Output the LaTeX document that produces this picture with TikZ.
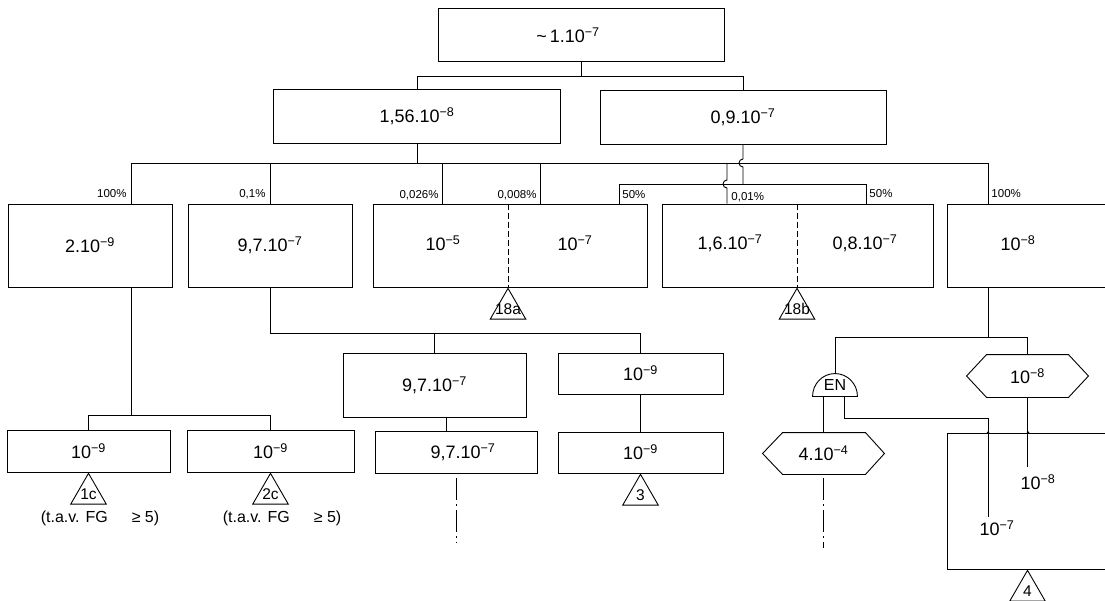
\documentclass[tikz,border=0pt]{standalone}
\usepackage{fontspec}
\setmainfont{Liberation Sans}
\usetikzlibrary{shapes.geometric,calc}
\begin{document}
\begin{tikzpicture}[x=1pt,y=-1pt,line width=0.9pt,
  box/.style={draw,rectangle,inner sep=0pt,font=\fontsize{18}{21}\selectfont},
  main/.style={inner sep=0pt,font=\fontsize{18}{21}\selectfont},
  pct/.style={inner sep=0pt,font=\fontsize{11.5}{13}\selectfont},
  tri/.style={draw,regular polygon,regular polygon sides=3,minimum size=41pt,inner sep=0pt,anchor=corner 1},
  trilab/.style={inner sep=0pt,font=\fontsize{15.5}{18}\selectfont},
  note/.style={inner sep=0pt,font=\fontsize{16}{19}\selectfont},
  divider/.style={dash pattern=on 6pt off 3pt},
  dashdot/.style={dash pattern=on 22pt off 4pt on 2pt off 4pt}]
\useasboundingbox (0,0) rectangle (1105,601);
\clip (0,0) rectangle (1105,601);

% ---- boxes ----
\node[box,minimum width=286pt,minimum height=53pt] (top) at (581,34.5) {};
\node[main] (ttop) at (568,35) {\textasciitilde\,1.10\textsuperscript{−7}};
\node[box,minimum width=287pt,minimum height=54pt] (n156) at (417,116) {1,56.10\textsuperscript{−8}};
\node[box,minimum width=286pt,minimum height=54pt] (n09) at (743,117) {0,9.10\textsuperscript{−7}};

\node[box,minimum width=164pt,minimum height=83pt] (n2e9) at (90,245.5) {2.10\textsuperscript{−9}};
\node[box,minimum width=164pt,minimum height=83pt] (n97) at (270,245.5) {9,7.10\textsuperscript{−7}};
\node[box,minimum width=274pt,minimum height=83pt] (nA) at (510,245.5) {};
\node[main] (tA1) at (443,243) {10\textsuperscript{−5}};
\node[main] (tA2) at (575,243) {10\textsuperscript{−7}};
\node[box,minimum width=271pt,minimum height=83pt] (nB) at (797.5,245.5) {};
\node[main] (tB1) at (730,243) {1,6.10\textsuperscript{−7}};
\node[main] (tB2) at (865,243) {0,8.10\textsuperscript{−7}};
\node[box,minimum width=274pt,minimum height=83pt] (nC) at (1084,245.5) {};
\node[main] (tC) at (1018,243) {10\textsuperscript{−8}};

\coordinate (dA) at (508,0);
\coordinate (dB) at (797,0);
\draw[divider] (nA.north -| dA) -- (nA.south -| dA);
\draw[divider] (nB.north -| dB) -- (nB.south -| dB);

\node[box,minimum width=183pt,minimum height=64pt] (n97b) at (434.5,385) {9,7.10\textsuperscript{−7}};
\node[box,minimum width=165pt,minimum height=41pt] (n9a) at (640.5,373.5) {10\textsuperscript{−9}};
\node[box,minimum width=162pt,minimum height=42pt] (n97c) at (456,452) {};
\node[main] (t97c) at (463,452) {9,7.10\textsuperscript{−7}};
\node[box,minimum width=165pt,minimum height=41pt] (n9b) at (640.5,452.5) {10\textsuperscript{−9}};
\node[box,minimum width=163pt,minimum height=42pt] (n1c) at (88.5,451) {10\textsuperscript{−9}};
\node[box,minimum width=167pt,minimum height=42pt] (n2c) at (270.5,451) {10\textsuperscript{−9}};

% hexagons
\node[main,minimum width=121pt,minimum height=41pt] (hex4) at (823.5,453.5) {4.10\textsuperscript{−4}};
\draw ([xshift=20pt]hex4.north west) -- ([xshift=-19pt]hex4.north east) -- (hex4.east)
  -- ([xshift=-19pt]hex4.south east) -- ([xshift=20pt]hex4.south west) -- (hex4.west) -- cycle;
\node[main,minimum width=121pt,minimum height=42pt] (hex8) at (1027.5,376) {10\textsuperscript{−8}};
\draw ([xshift=20pt]hex8.north west) -- ([xshift=-20pt]hex8.north east) -- (hex8.east)
  -- ([xshift=-20pt]hex8.south east) -- ([xshift=20pt]hex8.south west) -- (hex8.west) -- cycle;

% EN gate
\node[note,minimum width=44pt,minimum height=22pt] (en) at (835,385) {EN};
\draw (en.south west) to[out=90,in=180] (en.north) to[out=0,in=90] (en.south east) -- cycle;

% big rectangle
\node[draw,rectangle,inner sep=0pt,minimum width=260pt,minimum height=136pt] (big) at (1077,501) {};
\node[main] (l8) at (1038,482) {10\textsuperscript{−8}};
\node[main] (l7) at (997,528) {10\textsuperscript{−7}};

% triangles
\node[tri] (t18a) at (nA.south -| dA) {};
\node[trilab] at (t18a.center) {18a};
\node[tri] (t18b) at (nB.south -| dB) {};
\node[trilab] at (t18b.center) {18b};
\node[tri] (t1c) at (n1c.south) {};
\node[trilab] at (t1c.center) {1c};
\node[tri] (t2c) at (n2c.south) {};
\node[trilab] at (t2c.center) {2c};
\node[tri] (t3) at (n9b.south) {};
\node[trilab] at (t3.center) {3};
\node[tri] (t4) at (big.south -| hex8.south) {};
\node[trilab] at (t4.center) {4};

\node[note] (fg1) at (100,518) {(t.a.v. FG\hspace{24pt}≥ 5)};
\node[note] (fg2) at (282,518) {(t.a.v. FG\hspace{24pt}≥ 5)};

% ---- connectors ----
\coordinate (h1) at (0,76);
\draw (top.south) -- (top.south |- h1);
\draw (n156.north) |- (h1 -| n09.north) -- (n09.north);

\coordinate (bus) at (0,163);
\coordinate (p100) at (131,163);
\coordinate (p026) at (442,163);
\coordinate (p008) at (540,163);
\coordinate (p001) at (727,163);
\coordinate (p100r) at (988,163);
\draw (p100) -- (p100r);
\draw (n156.south) -- (n156.south |- bus);
\draw (p100) -- (p100 |- n2e9.north);
\draw (n97.north) -- (n97.north |- bus);
\draw (p026) -- (p026 |- nA.north);
\draw (p008) -- (p008 |- nA.north);
\draw (p100r) -- (p100r |- nC.north);

\coordinate (br) at (0,184);
\coordinate (b50l) at (619,184);
\coordinate (b50r) at (866,184);
\draw (b50l |- nA.north) -- (b50l) -- (b50r) -- (b50r |- nB.north);
\draw (n09.south) -- ($(n09.south |- bus)+(0,-4)$) arc[start angle=90,end angle=270,radius=4pt] -- (n09.south |- br);
\draw (p001) -- ($(p001 |- br)+(0,-4)$) arc[start angle=90,end angle=270,radius=4pt] -- (p001 |- nB.north);

\node[pct,anchor=east] (q1) at (127,194) {100\%};
\node[pct,anchor=east] (q2) at (266,194) {0,1\%};
\node[pct,anchor=east] (q3) at (439,195) {0,026\%};
\node[pct,anchor=east] (q4) at (537,195) {0,008\%};
\node[pct,anchor=west] (q5) at (622,195) {50\%};
\node[pct,anchor=west] (q6) at (731,197) {0,01\%};
\node[pct,anchor=west] (q7) at (869,194) {50\%};
\node[pct,anchor=west] (q8) at (991,194) {100\%};

\coordinate (j2) at (131,415);
\draw (n2e9.south -| j2) -- (j2);
\draw (n1c.north) |- (j2 -| n2c.north) -- (n2c.north);

\coordinate (h3) at (0,333);
\draw (n97.south) |- (h3 -| n9a.north) -- (n9a.north);
\draw (n97b.north) -- (n97b.north |- h3);
\coordinate (v97) at (446,0);
\draw (n97b.south -| v97) -- (n97c.north -| v97);
\draw (n9a.south) -- (n9b.north);
\coordinate (end97) at (456,543);
\draw[dashdot] ($(n97c.south)+(0,5)$) -- (end97);

\coordinate (h4) at (0,337);
\draw (nC.south -| p100r) -- (p100r |- h4);
\draw (en.north) |- (h4 -| hex8.north) -- (hex8.north);
\draw (hex4.north) -- (hex4.north |- en.south);
\coordinate (enr) at (844,418);
\coordinate (e7) at (988,517);
\draw (en.south -| enr) -- (enr) -| (e7);
\coordinate (e8) at (1028,467);
\draw (hex8.south) -- (hex8.south |- e8);
\fill (e7 |- big.north) circle (1.3pt);
\fill (e8 |- big.north) circle (1.3pt);
\coordinate (end4) at (823.5,548);
\draw[dashdot] ($(hex4.south)+(0,4)$) -- (end4);
\end{tikzpicture}
\end{document}
